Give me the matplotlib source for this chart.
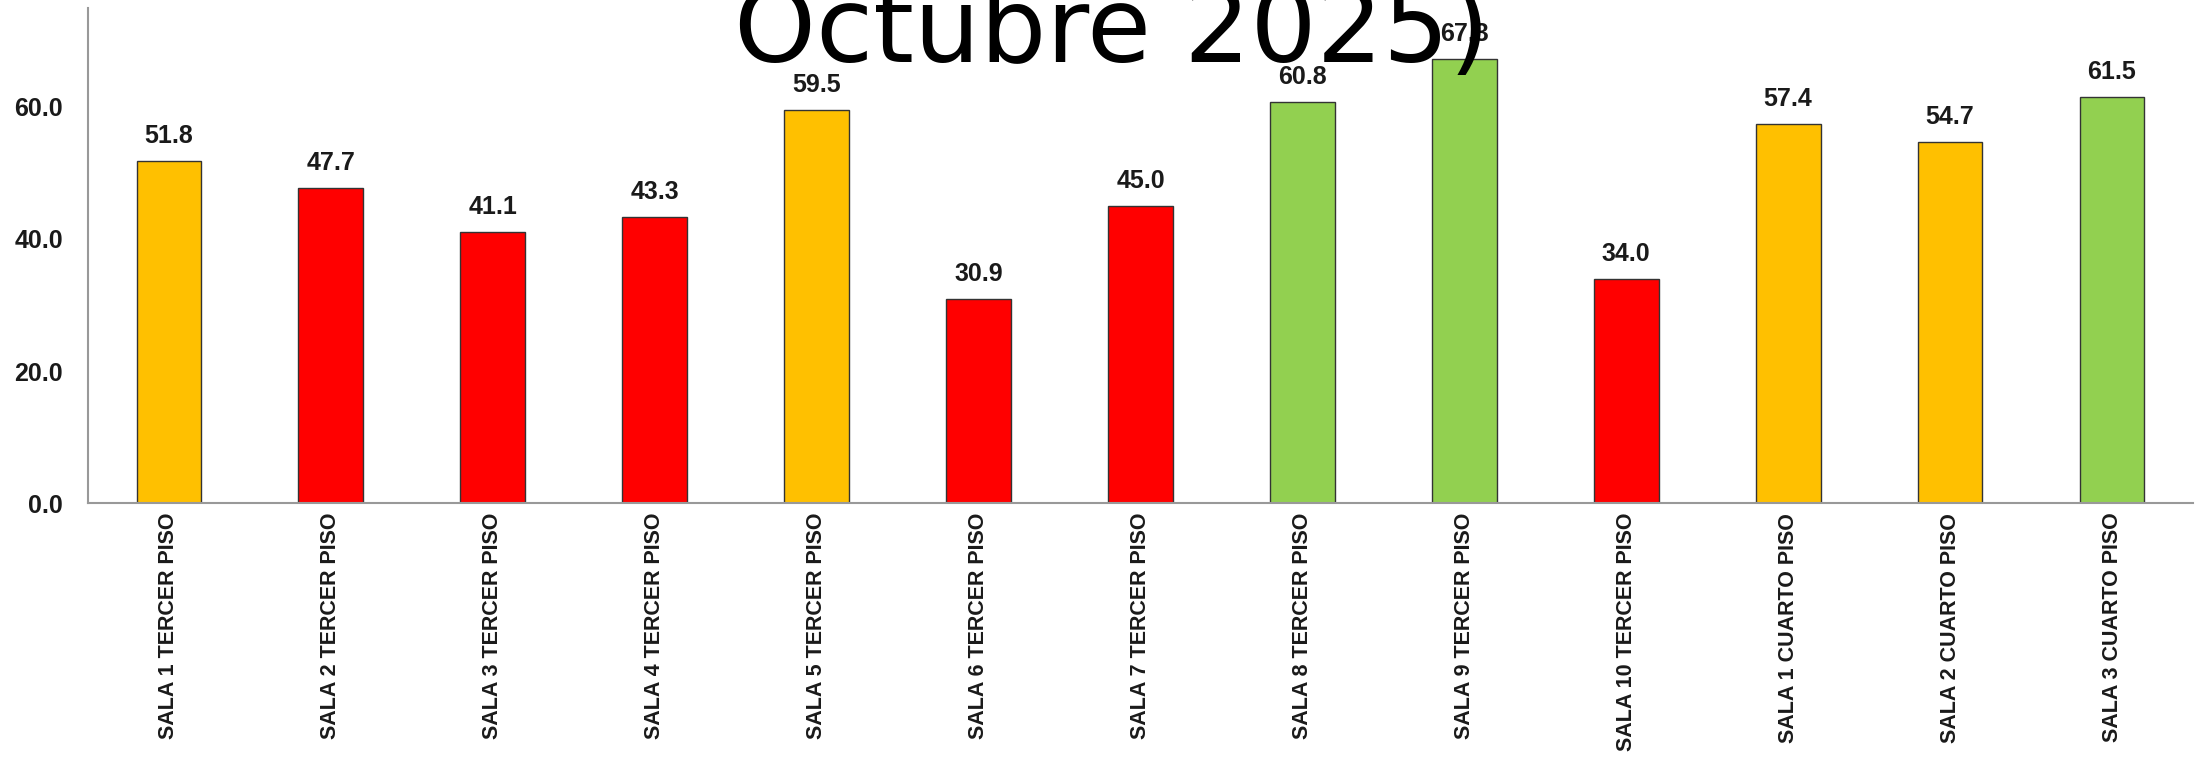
import numpy as np
import matplotlib
matplotlib.use("Agg")
import matplotlib.pyplot as plt

# datos
salas = ["SALA 1 TERCER PISO", "SALA 2 TERCER PISO", "SALA 3 TERCER PISO",
         "SALA 4 TERCER PISO", "SALA 5 TERCER PISO", "SALA 6 TERCER PISO",
         "SALA 7 TERCER PISO", "SALA 8 TERCER PISO", "SALA 9 TERCER PISO",
         "SALA 10 TERCER PISO", "SALA 1 CUARTO PISO", "SALA 2 CUARTO PISO",
         "SALA 3 CUARTO PISO"]
valores = [51.8, 47.7, 41.1, 43.3, 59.5, 30.9, 45.0, 60.8, 67.3, 34.0, 57.4, 54.7, 61.5]
colores = ["#FFC000", "#FF0000", "#FF0000", "#FF0000", "#FFC000", "#FF0000", "#FF0000",
           "#92D050", "#92D050", "#FF0000", "#FFC000", "#FFC000", "#92D050"]
ticks_y = [0, 20, 40, 60]

FUENTE = ["Liberation Sans", "DejaVu Sans"]

fig = plt.figure(figsize=(22, 7.57), dpi=100)
ax = fig.add_axes([0.04, 0.3355, 0.9568, 0.654])

x = np.arange(len(salas))
ax.bar(x, valores, width=0.4, color=colores, edgecolor="#333333", linewidth=1.0)

for xi, v in zip(x, valores):
    ax.annotate(f"{v:.1f}", (xi, v), xytext=(0, 13), textcoords="offset points",
                ha="center", va="baseline", fontsize=18, fontweight="bold",
                family=FUENTE, color="#1a1a1a")

ax.set_xlim(-0.5, len(salas) - 0.5)
ax.set_ylim(0, 75)
ax.set_yticks(ticks_y)
ax.set_yticklabels([f"{t:.1f}" for t in ticks_y], fontsize=18, fontweight="bold",
                   family=FUENTE, color="#1a1a1a")
ax.set_xticks(x)
ax.set_xticklabels(salas, rotation=90, fontsize=15.5, fontweight="bold",
                   family=FUENTE, color="#1a1a1a")
ax.tick_params(axis="y", length=0, pad=18)
ax.tick_params(axis="x", length=0, pad=7)

for lado in ["top", "right"]:
    ax.spines[lado].set_visible(False)
for lado in ["left", "bottom"]:
    ax.spines[lado].set_color("#999999")
    ax.spines[lado].set_linewidth(1.5)

fig.text(0.5055, 1 - 62 / 757, "Octubre 2025)", ha="center", va="baseline",
         fontsize=75, color="black", zorder=10)

fig.savefig("out.png", dpi=100, facecolor="white")
